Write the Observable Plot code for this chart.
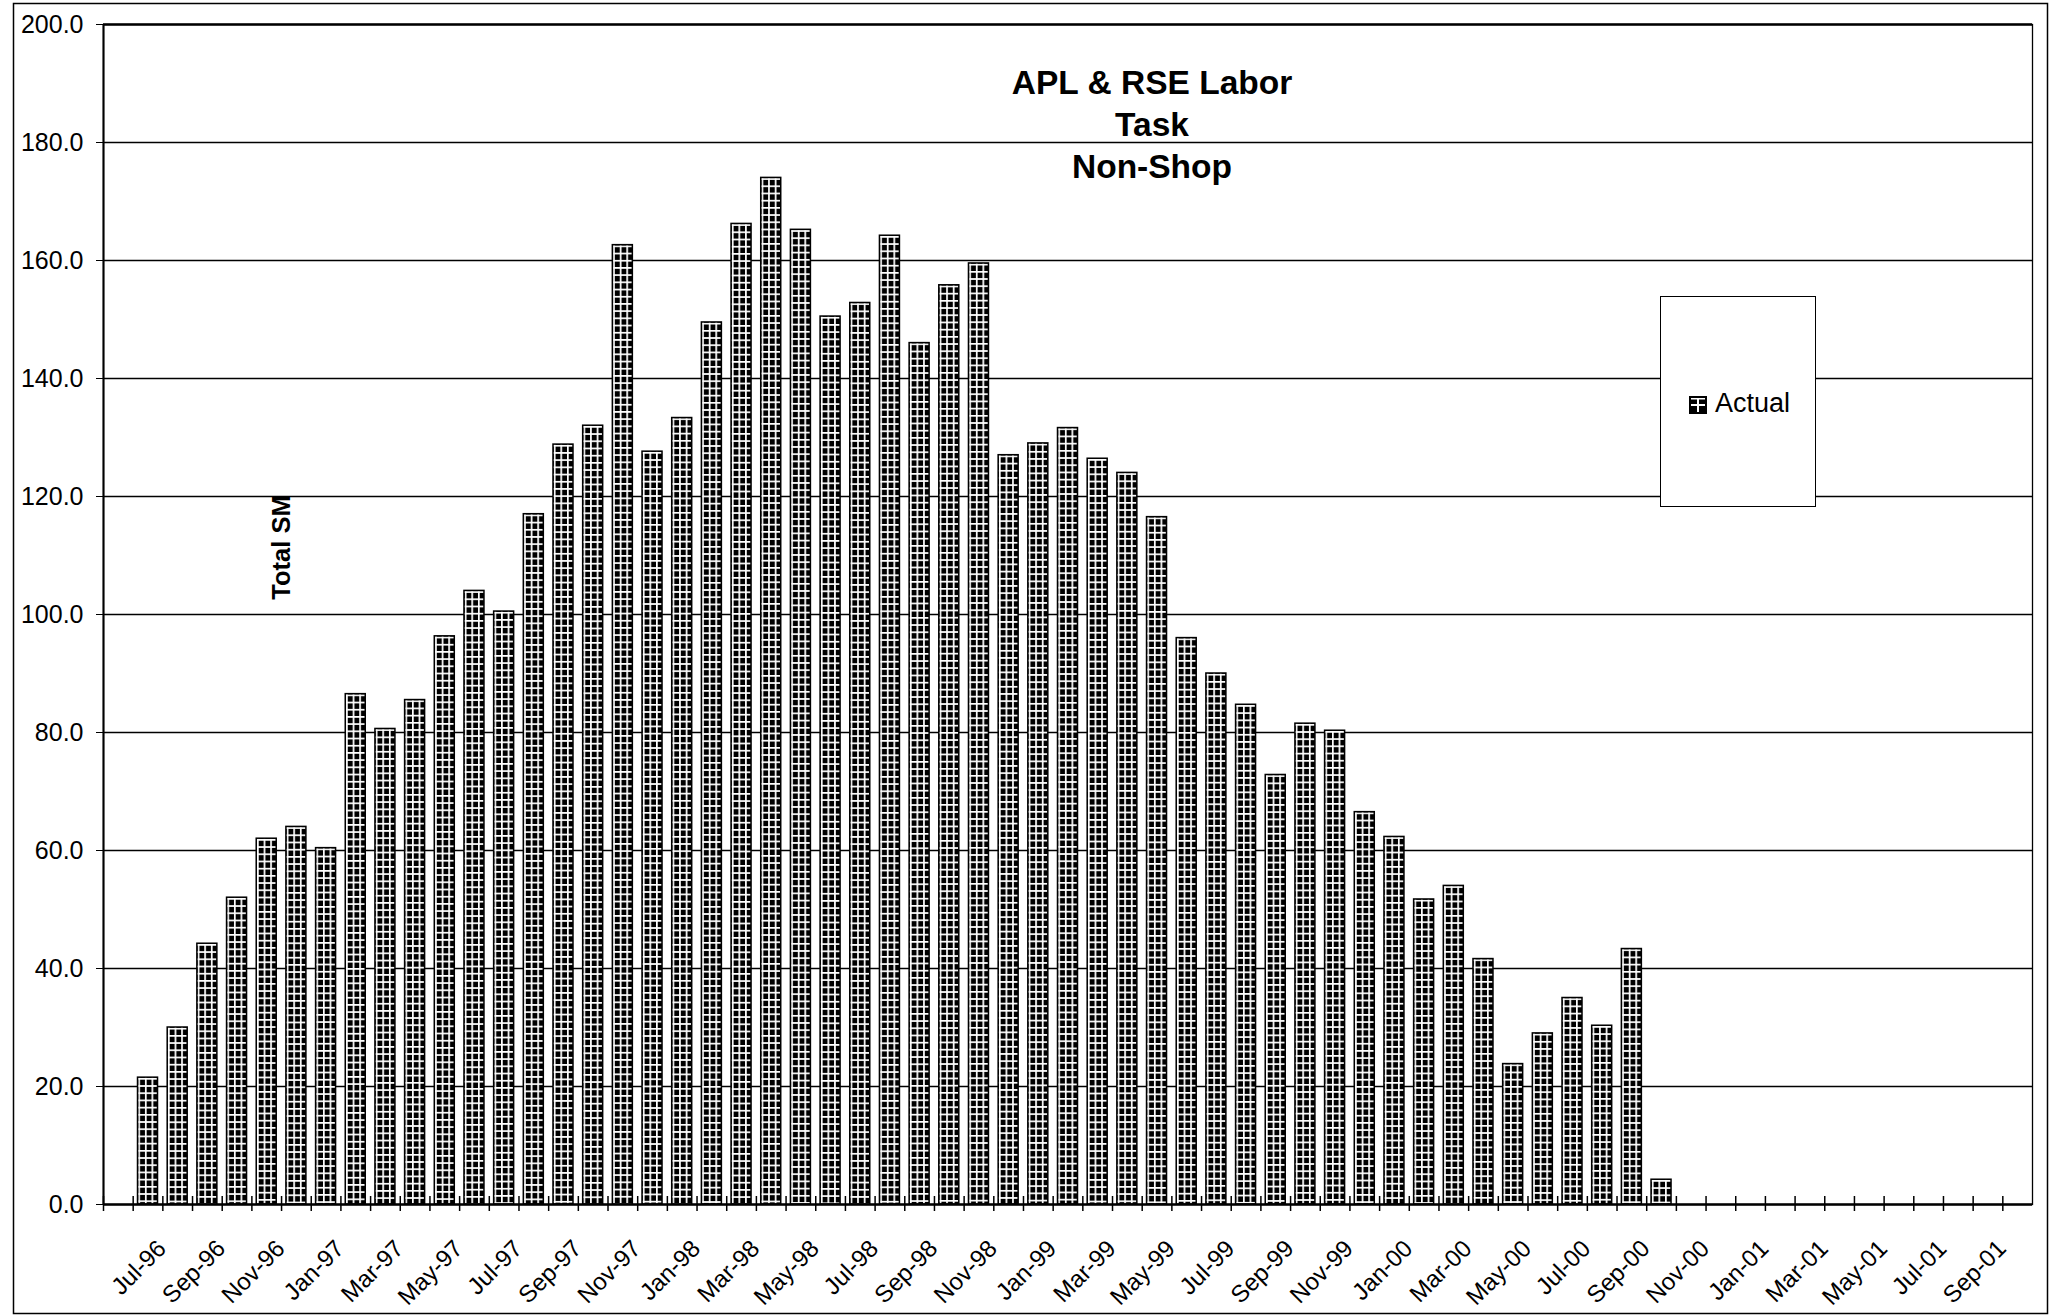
<!DOCTYPE html>
<html><head><meta charset="utf-8">
<script src="https://cdn.jsdelivr.net/npm/d3@7"></script>
<script src="https://cdn.jsdelivr.net/npm/@observablehq/plot@0.6"></script>
<style>
html,body{margin:0;padding:0;background:#fff;}
#wrap{position:relative;width:2049px;height:1315px;overflow:hidden;font-family:'Liberation Sans',Arial,Helvetica,sans-serif;}
#legend{position:absolute;left:1660px;top:296px;width:156px;height:211px;box-sizing:border-box;border:1.5px solid #000;background:#fff;}
#legend svg{position:absolute;left:28px;top:99px;}
#legend span{position:absolute;left:54px;top:93px;font-size:27px;line-height:27px;color:#000;white-space:nowrap;}
</style></head><body><div id="wrap"></div>
<script>
// ---- data ----
const months = ["Jun-96","Jul-96","Aug-96","Sep-96","Oct-96","Nov-96","Dec-96",
  "Jan-97","Feb-97","Mar-97","Apr-97","May-97","Jun-97","Jul-97","Aug-97","Sep-97","Oct-97","Nov-97","Dec-97",
  "Jan-98","Feb-98","Mar-98","Apr-98","May-98","Jun-98","Jul-98","Aug-98","Sep-98","Oct-98","Nov-98","Dec-98",
  "Jan-99","Feb-99","Mar-99","Apr-99","May-99","Jun-99","Jul-99","Aug-99","Sep-99","Oct-99","Nov-99","Dec-99",
  "Jan-00","Feb-00","Mar-00","Apr-00","May-00","Jun-00","Jul-00","Aug-00","Sep-00","Oct-00","Nov-00","Dec-00",
  "Jan-01","Feb-01","Mar-01","Apr-01","May-01","Jun-01","Jul-01","Aug-01","Sep-01","Oct-01"];
const actual = [null,
  21.5, 30.0, 44.2, 52.0, 62.0, 64.0,
  60.4, 86.5, 80.6, 85.5, 96.3, 104.0, 100.5, 117.0, 128.8, 132.0, 162.6, 127.6,
  133.3, 149.5, 166.2, 174.0, 165.2, 150.5, 152.8, 164.2, 146.0, 155.8, 159.5, 127.0,
  129.0, 131.6, 126.4, 124.0, 116.5, 96.0, 90.0, 84.7, 72.8, 81.5, 80.3, 66.5,
  62.3, 51.7, 54.0, 41.6, 23.8, 29.0, 35.0, 30.3, 43.3, 4.2,
  null, null, null, null, null, null, null, null, null, null, null, null];
const xTickLabels = ["Jul-96","Sep-96","Nov-96","Jan-97","Mar-97","May-97","Jul-97","Sep-97","Nov-97",
  "Jan-98","Mar-98","May-98","Jul-98","Sep-98","Nov-98","Jan-99","Mar-99","May-99","Jul-99","Sep-99","Nov-99",
  "Jan-00","Mar-00","May-00","Jul-00","Sep-00","Nov-00","Jan-01","Mar-01","May-01","Jul-01","Sep-01"];
const yTicks = [0,20,40,60,80,100,120,140,160,180,200];
const titleLines = ["APL & RSE Labor","Task","Non-Shop"];
const yLabel = "Total SM";
const seriesName = "Actual";

const data = months.map((m, i) => ({month: m, value: actual[i]}));

// ---- layout ----
const W = 2049, H = 1315;
const mL = 103, mR = 17, mT = 24, mB = 111;
const step = (W - mL - mR) / months.length;

const chart = Plot.plot({
  width: W, height: H,
  marginLeft: mL, marginRight: mR, marginTop: mT, marginBottom: mB,
  style: {fontFamily: "'Liberation Sans', Arial, Helvetica, sans-serif", fontSize: "22px", color: "#000", background: "#fff"},
  x: {type: "band", domain: months, paddingInner: 0.326, paddingOuter: 0.163},
  y: {domain: [0, 200]},
  marks: [
    Plot.frame({stroke: "#000", strokeWidth: 1.5, insetLeft: -90, insetTop: -21, insetRight: -15, insetBottom: -109}),
    Plot.ruleY(yTicks.filter(d => d > 0 && d < 200), {stroke: "#000", strokeWidth: 1.3}),
    Plot.frame({stroke: "#000", strokeWidth: 1.3}),
    Plot.ruleY([200], {stroke: "#000", strokeWidth: 2.5}),
    Plot.barY(data, {x: "month", y: "value", fill: "#000", stroke: "#000", strokeWidth: 1.5}),
    Plot.ruleX(months, {x: d => d, y1: 0, y2: 0, insetTop: -8, insetBottom: -7, dx: -step / 2, stroke: "#000", strokeWidth: 1.5}),
    Plot.ruleY([0], {stroke: "#000", strokeWidth: 2.5}),
    Plot.ruleX([months[0]], {dx: -step / 2, stroke: "#000", strokeWidth: 2}),
    Plot.axisY({ticks: yTicks, tickFormat: d => d.toFixed(1), tickSize: 7, tickPadding: 13, fontSize: 25, label: null, stroke: "#000"}),
    Plot.axisX({ticks: xTickLabels, tickSize: 0, tickPadding: 40, tickRotate: -45, dx: 14, fontSize: 24, label: null}),
    Plot.text([yLabel], {frameAnchor: "left", textAnchor: "middle", rotate: -90, dx: 178, dy: -67, fontSize: 25.5, fontWeight: "bold"}),
    Plot.text([titleLines.join("\n")], {frameAnchor: "top", dx: 84, dy: 40, fontSize: 33.5, fontWeight: "bold", lineHeight: 1.254})
  ]
});

// per-bar grid pattern (black squares with white grid lines)
const ns = "http://www.w3.org/2000/svg";
const defs = document.createElementNS(ns, "defs");
chart.insertBefore(defs, chart.firstChild);
const cw = 6.6, ch = 7.2, lw = 1.7;
chart.querySelectorAll('g[aria-label="bar"] rect').forEach((r, i) => {
  const x = +r.getAttribute("x"), y = +r.getAttribute("y");
  const p = document.createElementNS(ns, "pattern");
  p.setAttribute("id", "pat" + i);
  p.setAttribute("patternUnits", "userSpaceOnUse");
  p.setAttribute("x", x + 0.8); p.setAttribute("y", y + 0.8);
  p.setAttribute("width", cw); p.setAttribute("height", ch);
  p.innerHTML = `<rect width="${cw}" height="${ch}" fill="#000"/><rect width="${lw}" height="${ch}" fill="#fff"/><rect width="${cw}" height="${lw}" fill="#fff"/>`;
  defs.appendChild(p);
  r.setAttribute("fill", `url(#pat${i})`);
});

const wrap = document.getElementById("wrap");
wrap.appendChild(chart);
const leg = document.createElement("div");
leg.id = "legend";
leg.innerHTML = `<svg width="18" height="18"><rect width="18" height="18" fill="#000"/><rect x="8" y="2" width="2" height="14" fill="#fff"/><rect x="2" y="8" width="14" height="2" fill="#fff"/><rect x="2" y="2" width="14" height="1.5" fill="#fff"/></svg><span>${seriesName}</span>`;
wrap.appendChild(leg);
</script>
</body></html>
